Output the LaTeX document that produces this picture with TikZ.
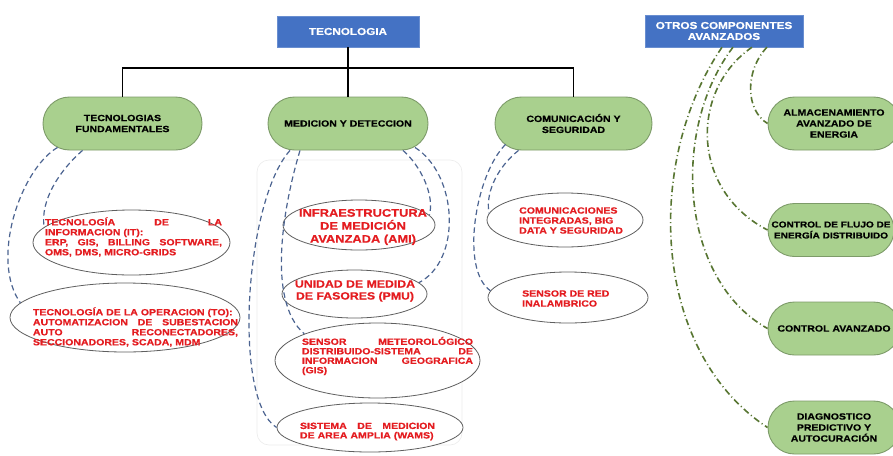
\documentclass[tikz,border=0pt]{standalone}
\usepackage{fontspec}
\setmainfont{Liberation Sans}[FakeStretch=1.17, BoldFeatures={FakeBold=0.6}]
\usetikzlibrary{shapes.geometric,shapes.misc}
\setlength{\parindent}{0pt}
\definecolor{boxblue}{RGB}{68,114,196}
\definecolor{leaf}{RGB}{169,208,142}
\definecolor{leafline}{RGB}{125,155,105}
\definecolor{dashblue}{RGB}{76,100,145}
\definecolor{dashgreen}{RGB}{88,118,50}
\definecolor{txtred}{RGB}{228,28,32}
\definecolor{rim}{RGB}{95,95,95}
\tikzset{
  topbox/.style={rectangle, fill=boxblue, draw=boxblue!80!white, text=white,
    font=\bfseries\fontsize{10}{11}\selectfont, align=center, inner sep=0pt},
  pill/.style={rounded rectangle, fill=leaf, draw=leafline, line width=0.9pt,
    minimum width=#1, minimum height=53pt, inner sep=0pt,
    font=\bfseries\fontsize{9}{11}\selectfont, align=center},
  pill/.default=159pt,
  oval/.style={ellipse, draw=rim, line width=0.8pt, fill=white, inner sep=0pt},
  redtxt/.style={text=txtred, font=\bfseries\fontsize{9}{10}\selectfont, inner sep=0pt},
  link/.style={draw=dashblue, line width=1.2pt, dash pattern=on 5.5pt off 3.5pt},
  trunk/.style={line width=1.4pt},
  spur/.style={draw=dashgreen, line width=1.6pt, dash pattern=on 6.5pt off 3pt on 1pt off 3pt},
}
\begin{document}
\begin{tikzpicture}[x=1pt, y=-1pt]
\useasboundingbox (0,0) rectangle (893,455);
\fill[white] (0,0) rectangle (893,455);
\clip (0,0) rectangle (893,455);

% faint frame around the measurement group
\draw[gray!15, line width=0.6pt, rounded corners=12pt] (257,160) rectangle (462,445);

% headers
\node[topbox, minimum width=142pt, minimum height=31pt] (tec) at (348,31.5) {TECNOLOGIA};
\node[topbox, minimum width=158pt, minimum height=32pt] (otros) at (724,31) {OTROS COMPONENTES\\AVANZADOS};

% first level
\node[pill] (tf) at (122.5,123.5) {TECNOLOGIAS\\FUNDAMENTALES};
\node[pill=160pt] (med) at (348,123.5) {MEDICION Y DETECCION};
\node[pill=157pt] (com) at (573.5,123.5) {COMUNICACIÓN Y\\SEGURIDAD};

% other advanced components
\node[pill=132pt] (alm) at (834,123.5) {ALMACENAMIENTO\\AVANZADO DE\\ENERGIA};
\node[pill=126pt, font=\bfseries\fontsize{8.6}{11}\selectfont] (flujo) at (831,230) {CONTROL DE FLUJO DE\\ENERGÍA DISTRIBUIDO};
\node[pill=132pt] (ca) at (834,328.5) {CONTROL AVANZADO};
\node[pill=132pt] (diag) at (834,427.5) {DIAGNOSTICO\\PREDICTIVO Y\\AUTOCURACIÓN};

% tree
\coordinate (bar) at (348,68);
\draw[trunk] (tec.south) -- (med.north);
\draw[trunk] (tf.north) |- (bar) -| (com.north);

% ovals
\node[oval, minimum width=197pt, minimum height=65pt] (ti) at (131.5,242.5) {};
\node[oval, minimum width=230pt, minimum height=69pt] (to) at (125,317.5) {};
\node[oval, minimum width=152pt, minimum height=50pt] (ami) at (359,225) {};
\node[oval, minimum width=145pt, minimum height=48pt] (pmu) at (354.5,294) {};
\node[oval, minimum width=205pt, minimum height=75pt] (sen) at (377.5,360.5) {};
\node[oval, minimum width=186pt, minimum height=49pt] (wams) at (370,427.5) {};
\node[oval, minimum width=156pt, minimum height=54pt] (ci) at (565,220) {};
\node[oval, minimum width=160pt, minimum height=51pt] (sr) at (568,297.5) {};

% oval texts
\node[redtxt, text width=177pt, align=left] (ti-t) at (133.5,237)
  {TECNOLOGÍA\hfill DE\hfill LA\\INFORMACION (IT):\\ERP,\hfill GIS,\hfill BILLING\hfill SOFTWARE,\\OMS, DMS, MICRO-GRIDS};
\node[redtxt, text width=205pt, align=left] (to-t) at (135.5,327)
  {TECNOLOGÍA DE LA OPERACION (TO):\\AUTOMATIZACION\hfill DE\hfill SUBESTACION\\AUTO\hfill RECONECTADORES,\\SECCIONADORES, SCADA, MDM};
\node[redtxt, font=\bfseries\fontsize{11}{13}\selectfont, align=center] (ami-t) at (363,227)
  {INFRAESTRUCTURA\\DE MEDICIÓN\\AVANZADA (AMI)};
\node[redtxt, font=\bfseries\fontsize{10.5}{12}\selectfont, align=center] (pmu-t) at (355,291)
  {UNIDAD DE MEDIDA\\DE FASORES (PMU)};
\node[redtxt, font=\bfseries\fontsize{9}{9.5}\selectfont, text width=171pt, align=left] (sen-t) at (387.5,356)
  {SENSOR\hfill METEOROLÓGICO\\DISTRIBUIDO-SISTEMA\hfill DE\\INFORMACION\hfill GEOGRAFICA\\(GIS)};
\node[redtxt, font=\bfseries\fontsize{9}{9.5}\selectfont, text width=135pt, align=left] (wams-t) at (367.5,431.5)
  {SISTEMA\hfill DE\hfill MEDICION\\DE AREA AMPLIA (WAMS)};
\node[redtxt, align=left, anchor=west] (ci-t) at (519,220.5)
  {COMUNICACIONES\\INTEGRADAS, BIG\\DATA Y SEGURIDAD};
\node[redtxt, align=left, anchor=west] (sr-t) at (522,298.5)
  {SENSOR DE RED\\INALAMBRICO};

% dashed links: fundamental technologies
\draw[link] ([xshift=-40pt]tf.south) .. controls (60,170) and (40,200) .. (ti.170);
\draw[link] ([xshift=-65pt,yshift=3pt]tf.south) .. controls (20,170) and (-10,260) .. (to.172);

% dashed links: measurement and detection
\draw[link] ([xshift=-58pt]med.south) .. controls (245,200) and (232,400) .. (wams.west);
\draw[link] ([xshift=-48pt]med.south) .. controls (285,200) and (265,300) .. (sen.160);
\draw[link] ([xshift=55pt]med.south) .. controls (420,165) and (435,195) .. (ami.8);
\draw[link] ([xshift=67pt,yshift=3pt]med.south) .. controls (458,175) and (462,260) .. (pmu.10);

% dashed links: communication and security
\draw[link] ([xshift=-55pt]com.south) .. controls (500,165) and (485,190) .. (ci.175);
\draw[link] ([xshift=-68pt,yshift=6pt]com.south) .. controls (475,175) and (460,270) .. (sr.175);

% dash-dot links: other advanced components
\draw[spur] ([xshift=43pt]otros.south) .. controls (745,70) and (745,110) .. (alm.west);
\draw[spur] ([xshift=28pt]otros.south) .. controls (690,90) and (690,190) .. (flujo.west);
\draw[spur] ([xshift=9pt]otros.south) .. controls (670,130) and (680,280) .. (ca.west);
\draw[spur] ([xshift=-2pt]otros.south) .. controls (645,160) and (650,350) .. (diag.west);
\end{tikzpicture}
\end{document}
